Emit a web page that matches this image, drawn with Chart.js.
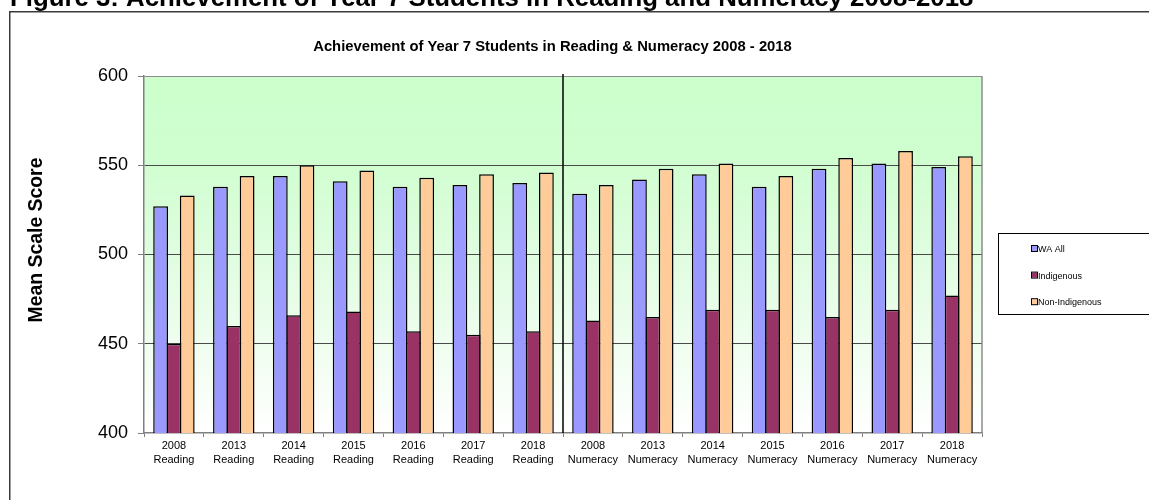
<!DOCTYPE html>
<html>
<head>
<meta charset="utf-8">
<title>Achievement of Year 7 Students in Reading & Numeracy 2008 - 2018</title>
<script src="https://cdn.jsdelivr.net/npm/chart.js@4.4.1/dist/chart.umd.min.js"></script>
<style>
  html, body { margin: 0; padding: 0; background: #ffffff; overflow: hidden; }
  canvas { display: block; }
</style>
</head>
<body>
<canvas id="chart" width="1149" height="500"></canvas>
<script>
// Test years and domains shown along the category axis
const years = ['2008', '2013', '2014', '2015', '2016', '2017', '2018'];
const domains = ['Reading', 'Numeracy'];

// Mean scale scores, Reading then Numeracy
const waAll         = [527, 538, 544, 541, 538, 539, 540,   534, 542, 545, 538, 548, 551, 549];
const indigenous    = [450, 460, 466, 468, 457, 455, 457,   463, 465, 469, 469, 465, 469, 477];
const nonIndigenous = [533, 544, 550, 547, 543, 545, 546,   539, 548, 551, 544, 554, 558, 555];

const seriesNames = ['WA All', 'Indigenous', 'Non-Indigenous'];
const yTicks = [400, 450, 500, 550, 600];

const chartTitle = 'Achievement of Year 7 Students in Reading & Numeracy 2008 - 2018';
const figureCaption = 'Figure 3: Achievement of Year 7 Students in Reading and Numeracy 2008-2018';
const yAxisTitle = 'Mean Scale Score';

// Two-line category labels: year above domain
const categories = [];
domains.forEach(d => years.forEach(y => categories.push([y, d])));

const FONT = "'Liberation Sans', Arial, sans-serif";

// Plot background, page caption, frame, titles, divider and legend
const decorations = {
  id: 'decorations',
  beforeDraw(chart) {
    const { ctx, chartArea: a } = chart;
    ctx.save();
    ctx.fillStyle = '#ffffff';
    ctx.fillRect(0, 0, chart.width, chart.height);
    const g = ctx.createLinearGradient(0, a.top, 0, a.bottom);
    g.addColorStop(0, '#ccffcc');
    g.addColorStop(0.22, '#cffecf');
    g.addColorStop(0.6, '#e6fde6');
    g.addColorStop(1, '#ffffff');
    ctx.fillStyle = g;
    ctx.fillRect(a.left, a.top, a.right - a.left, a.bottom - a.top);
    ctx.restore();
  },
  afterDatasetsDraw(chart) {
    const { ctx, chartArea: a, scales } = chart;
    ctx.save();
    // right edge of plot
    ctx.strokeStyle = '#8c8c8c';
    ctx.lineWidth = 1.5;
    ctx.beginPath();
    ctx.moveTo(a.right, a.top);
    ctx.lineTo(a.right, a.bottom);
    ctx.stroke();
    // divider between Reading and Numeracy groups
    const xDiv = scales.x.getPixelForValue(years.length - 0.5);
    ctx.strokeStyle = '#000000';
    ctx.lineWidth = 1.5;
    ctx.beginPath();
    ctx.moveTo(xDiv, a.top - 2);
    ctx.lineTo(xDiv, a.bottom);
    ctx.stroke();
    ctx.restore();
  },
  afterDraw(chart) {
    const { ctx, chartArea: a } = chart;
    ctx.save();

    // document caption above the chart frame
    ctx.fillStyle = '#000000';
    ctx.font = `bold 25.8px ${FONT}`;
    ctx.textAlign = 'left';
    ctx.textBaseline = 'alphabetic';
    ctx.fillText(figureCaption, 10, 5.5);

    // chart frame
    ctx.strokeStyle = '#3c3c3c';
    ctx.lineWidth = 1.5;
    ctx.beginPath();
    ctx.moveTo(9.75, chart.height + 5);
    ctx.lineTo(9.75, 11.75);
    ctx.lineTo(chart.width + 5, 11.75);
    ctx.stroke();

    // chart title
    ctx.font = `bold 14.8px ${FONT}`;
    ctx.textAlign = 'center';
    ctx.textBaseline = 'middle';
    ctx.fillText(chartTitle, 552.5, 47);

    // value axis title
    ctx.save();
    ctx.translate(37, 240);
    ctx.rotate(-Math.PI / 2);
    ctx.font = `bold 19.4px ${FONT}`;
    ctx.fillText(yAxisTitle, 0, 0);
    ctx.restore();

    // legend
    ctx.strokeStyle = '#000000';
    ctx.lineWidth = 1;
    ctx.strokeRect(998.5, 233.5, 200, 81);
    ctx.font = `9px ${FONT}`;
    ctx.textAlign = 'left';
    ctx.textBaseline = 'middle';
    chart.data.datasets.forEach((ds, i) => {
      const y = 249 + i * 26.6;
      ctx.fillStyle = ds.backgroundColor;
      ctx.fillRect(1032, y - 3, 5, 5);
      ctx.strokeStyle = '#000000';
      ctx.strokeRect(1031.5, y - 3.5, 6, 6);
      ctx.fillStyle = '#000000';
      ctx.fillText(ds.label, 1038, y + 0.5);
    });
    ctx.restore();
  }
};

const barStyle = {
  borderColor: '#000000',
  borderWidth: 1.5,
  borderSkipped: 'start',
  categoryPercentage: 0.668,
  barPercentage: 1.11
};

new Chart(document.getElementById('chart'), {
  type: 'bar',
  data: {
    labels: categories,
    datasets: [
      { label: seriesNames[0], data: waAll,         backgroundColor: '#9999ff', ...barStyle },
      { label: seriesNames[1], data: indigenous,    backgroundColor: '#993366', ...barStyle },
      { label: seriesNames[2], data: nonIndigenous, backgroundColor: '#ffcc99', ...barStyle }
    ]
  },
  options: {
    responsive: false,
    animation: false,
    devicePixelRatio: 1,
    layout: { padding: { top: 76, right: 167, bottom: 0, left: 0 } },
    plugins: {
      legend: { display: false },
      title: { display: false },
      tooltip: { enabled: false }
    },
    scales: {
      x: {
        offset: true,
        grid: {
          offset: true,
          drawOnChartArea: false,
          drawTicks: true,
          tickLength: 4,
          tickColor: '#808080'
        },
        border: { color: '#808080', width: 1.5 },
        ticks: {
          color: '#000000',
          font: { family: FONT, size: 11, lineHeight: 1.27 },
          padding: 2,
          maxRotation: 0,
          autoSkip: false
        },
        afterFit(scale) { scale.height = 67; }
      },
      y: {
        min: 400,
        max: 600,
        afterBuildTicks(scale) { scale.ticks = yTicks.map(v => ({ value: v })); },
        grid: {
          color: ctx => {
            const v = ctx.tick && ctx.tick.value;
            if (v === 600) return '#8c8c8c';
            if (v === 400) return 'rgba(0,0,0,0)';
            return '#4a4a4a';
          },
          lineWidth: 1,
          tickLength: 6,
          tickColor: '#808080'
        },
        border: { color: '#808080', width: 1.5 },
        ticks: {
          color: '#000000',
          font: { family: FONT, size: 18 },
          padding: 10
        },
        afterFit(scale) { scale.width = 144; }
      }
    }
  },
  plugins: [decorations]
});
</script>
</body>
</html>
